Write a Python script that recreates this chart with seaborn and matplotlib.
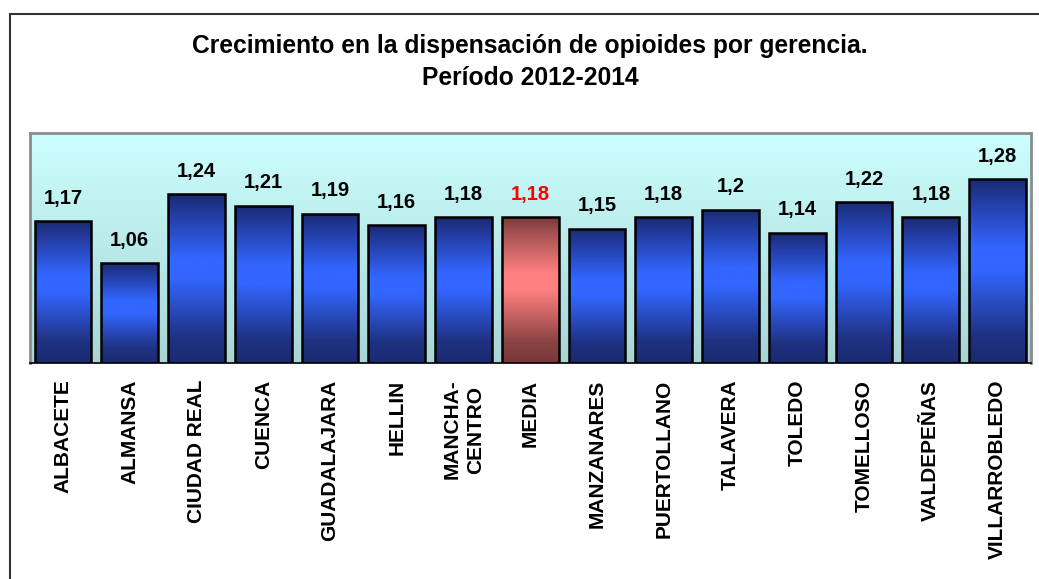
import numpy as np
import pandas as pd
import matplotlib
matplotlib.use("Agg")
import matplotlib.pyplot as plt
import seaborn as sns
from matplotlib.colors import LinearSegmentedColormap
from matplotlib.lines import Line2D

categories = ["ALBACETE", "ALMANSA", "CIUDAD REAL", "CUENCA", "GUADALAJARA",
              "HELLIN", "MANCHA-\nCENTRO", "MEDIA", "MANZANARES", "PUERTOLLANO",
              "TALAVERA", "TOLEDO", "TOMELLOSO", "VALDEPEÑAS", "VILLARROBLEDO"]
values = [1.17, 1.06, 1.24, 1.21, 1.19, 1.16, 1.18, 1.18, 1.15, 1.18,
          1.20, 1.14, 1.22, 1.18, 1.28]
highlight = "MEDIA"
title = "Crecimiento en la dispensación de opioides por gerencia.\nPeríodo 2012-2014"

sns.set_style("white")
plt.rcParams["font.family"] = ["Liberation Sans", "DejaVu Sans"]
plt.rcParams["text.color"] = "black"
plt.rcParams["xtick.color"] = "black"
plt.rcParams["xtick.labelcolor"] = "black"

W, H = 1039, 579
fig = plt.figure(figsize=(W / 100, H / 100), dpi=100)
ax = fig.add_axes([29.5 / W, 1 - 363 / H, (1031 - 29.5) / W, (363 - 133) / H])

df = pd.DataFrame({"gerencia": categories, "valor": values})
palette = {c: ("#FF8080" if c == highlight else "#3366FF") for c in categories}
sns.barplot(data=df, x="gerencia", y="valor", hue="gerencia", palette=palette,
            legend=False, width=0.85, edgecolor="black", linewidth=1.8,
            saturation=1, ax=ax)

ymin, ymax = 0.8, 1.4
ax.set_ylim(ymin, ymax)
ax.set_xlim(-0.5, len(categories) - 0.5)

# background gradient
bg_cmap = LinearSegmentedColormap.from_list("bg", ["#A8D4D4", "#CCFFFF"])
bg = np.linspace(0, 1, 256).reshape(-1, 1)
ax.imshow(bg, extent=[0, 1, 0, 1], transform=ax.transAxes, aspect="auto",
          cmap=bg_cmap, origin="lower", zorder=0)

# bar gradients
blue_cmap = LinearSegmentedColormap.from_list(
    "b", [(0, "#1A2A70"), (0.15, "#1F3282"), (0.5, "#3366FF"), (0.62, "#3366FF"), (0.9, "#22399A"), (1, "#1A2A70")])
red_cmap = LinearSegmentedColormap.from_list(
    "r", [(0, "#783838"), (0.15, "#8C4444"), (0.5, "#FF8080"), (0.62, "#FF8080"), (0.9, "#A05050"), (1, "#783838")])
grad = np.linspace(0, 1, 256).reshape(-1, 1)
for patch, cat, v in zip(ax.patches, categories, values):
    x0 = patch.get_x()
    w = patch.get_width()
    cmap = red_cmap if cat == highlight else blue_cmap
    im = ax.imshow(grad, extent=[x0, x0 + w, v, ymin], aspect="auto", cmap=cmap,
                   origin="upper", zorder=patch.get_zorder() - 0.05)
    im.set_clip_path(patch)
    patch.set_facecolor("none")
    patch.set_zorder(patch.get_zorder() + 0.1)
    label = f"{v:g}".replace(".", ",")
    ax.annotate(label, (x0 + w / 2, v), xytext=(0, 12.5), textcoords="offset points",
                ha="center", va="baseline", fontsize=14.5, fontweight="bold",
                color="#FF0000" if cat == highlight else "black")

ax.set_ylim(ymin, ymax)
ax.set_xlim(-0.5, len(categories) - 0.5)

# axes styling
for s in ["left", "top", "right"]:
    ax.spines[s].set_color("#8C8C8C")
    ax.spines[s].set_linewidth(2)
ax.spines["bottom"].set_color("black")
ax.spines["bottom"].set_linewidth(1.2)
ax.set_yticks([])
ax.set_xlabel("")
ax.set_ylabel("")
ax.set_xticks(range(len(categories)))
ax.set_xticklabels(categories, rotation=90, fontsize=15, fontweight="bold",
                   linespacing=1.3, color="black")
ax.tick_params(axis="x", which="major", length=0, pad=12)
ax.set_xticks(np.arange(-0.5, len(categories), 1.0), minor=True)
ax.tick_params(axis="x", which="minor", length=5, width=1, color="black", direction="out")

fig.text(530 / W, 1 - 62 / H, title, ha="center", va="center", fontsize=17.7,
         fontweight="bold", linespacing=1.38, multialignment="center", color="black")

# outer border (left and top)
fig.add_artist(Line2D([9.5 / W, 9.5 / W], [0, 1 - 14 / H], transform=fig.transFigure,
                      color="#333333", lw=1.5))
fig.add_artist(Line2D([9.5 / W, 1], [1 - 14 / H, 1 - 14 / H], transform=fig.transFigure,
                      color="#333333", lw=1.5))

fig.savefig("out.png", dpi=100)
